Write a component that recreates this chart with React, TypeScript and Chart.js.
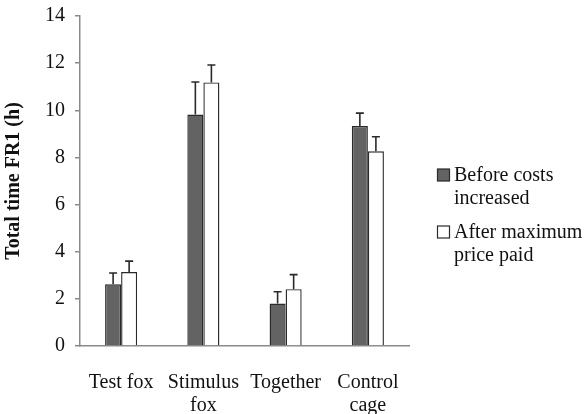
import React, { useEffect, useRef } from "react";
import { Chart, registerables } from "chart.js";

Chart.register(...registerables);

const categories: (string | string[])[] = ["Test fox", ["Stimulus", "fox"], "Together", ["Control", "cage"]];
const beforeValues = [2.62, 9.82, 1.8, 9.33];
const beforeErrors = [0.48, 1.38, 0.5, 0.55];
const afterValues = [3.14, 11.18, 2.41, 8.26];
const afterErrors = [0.46, 0.74, 0.62, 0.62];
const seriesLabels = [["Before costs", "increased"], ["After maximum", "price paid"]];
const errorSets = [beforeErrors, afterErrors];
const yTitle = "Total time FR1 (h)";

const FONT = "'Liberation Serif', 'Times New Roman', serif";
const SHIFT = 6;

const errorBarPlugin = {
  id: "errorBars",
  afterDatasetsDraw(chart: any) {
    const ctx = chart.ctx;
    const yScale = chart.scales.y;
    ctx.save();
    ctx.strokeStyle = "#2a2a2a";
    ctx.lineWidth = 1.6;
    chart.data.datasets.forEach((ds: any, di: number) => {
      const meta = chart.getDatasetMeta(di);
      meta.data.forEach((el: any, i: number) => {
        const v = ds.data[i] + errorSets[di][i];
        const yTop = yScale.getPixelForValue(v);
        ctx.beginPath();
        ctx.moveTo(el.x, el.y);
        ctx.lineTo(el.x, yTop);
        ctx.moveTo(el.x - 4, yTop);
        ctx.lineTo(el.x + 4, yTop);
        ctx.stroke();
      });
    });
    ctx.restore();
  },
};

const legendPlugin = {
  id: "customLegend",
  afterDraw(chart: any) {
    const ctx = chart.ctx;
    ctx.save();
    const boxX = 437.5;
    const textX = 454;
    const starts = [176 + SHIFT, 233 + SHIFT];
    const lineGap = 23;
    ctx.font = `20px ${FONT}`;
    ctx.textBaseline = "middle";
    chart.data.datasets.forEach((ds: any, di: number) => {
      const y0 = starts[di];
      ctx.fillStyle = ds.backgroundColor;
      ctx.strokeStyle = "#2a2a2a";
      ctx.lineWidth = 1.2;
      ctx.fillRect(boxX, y0 - 7, 12, 12);
      ctx.strokeRect(boxX, y0 - 7, 12, 12);
      ctx.fillStyle = "#111";
      seriesLabels[di].forEach((line, li) => {
        ctx.fillText(line, textX, y0 + li * lineGap);
      });
    });
    ctx.restore();
  },
};

export default function App() {
  const ref = useRef<HTMLCanvasElement>(null);
  useEffect(() => {
    if (!ref.current) return;
    const chart = new Chart(ref.current, {
      type: "bar",
      data: {
        labels: categories,
        datasets: [
          {
            label: seriesLabels[0].join(" "),
            data: beforeValues,
            backgroundColor: "#636363",
            borderColor: "#2a2a2a",
            borderWidth: 1.4,
            categoryPercentage: 0.39,
            barPercentage: 1,
          },
          {
            label: seriesLabels[1].join(" "),
            data: afterValues,
            backgroundColor: "#ffffff",
            borderColor: "#2a2a2a",
            borderWidth: 1.4,
            categoryPercentage: 0.39,
            barPercentage: 1,
          },
        ],
      },
      options: {
        animation: false,
        responsive: false,
        maintainAspectRatio: false,
        layout: { padding: { top: 0, right: 179, left: 2, bottom: 0 } },
        plugins: { legend: { display: false }, tooltip: { enabled: false } },
        scales: {
          x: {
            grid: { display: false },
            border: { display: true, color: "#8a8a8a", width: 1.5 },
            ticks: { color: "#111", font: { family: FONT, size: 20, lineHeight: 1.15 }, padding: 17, maxRotation: 0, autoSkip: false },
            afterFit: (scale: any) => {
              scale.height = 68;
            },
          },
          y: {
            min: 0,
            max: 14,
            ticks: { stepSize: 2, color: "#111", font: { family: FONT, size: 20 }, padding: 10 },
            grid: { drawOnChartArea: false, drawTicks: true, tickLength: 5, color: "#8a8a8a", lineWidth: 1.5 },
            border: { display: true, color: "#8a8a8a", width: 1.5 },
            title: { display: true, text: yTitle, color: "#111", font: { family: FONT, size: 20, weight: "bold" }, padding: { top: 0, bottom: 6 } },
            afterFit: (scale: any) => {
              scale.width = 78;
            },
          },
        },
      },
      plugins: [errorBarPlugin, legendPlugin],
    });
    return () => chart.destroy();
  }, []);
  return (
    <div style={{ position: "fixed", left: 0, top: 0, width: 588, height: 414, background: "#fff", overflow: "hidden" }}>
      <canvas ref={ref} width={588} height={414 + SHIFT} style={{ position: "absolute", left: 0, top: -SHIFT }} />
    </div>
  );
}
